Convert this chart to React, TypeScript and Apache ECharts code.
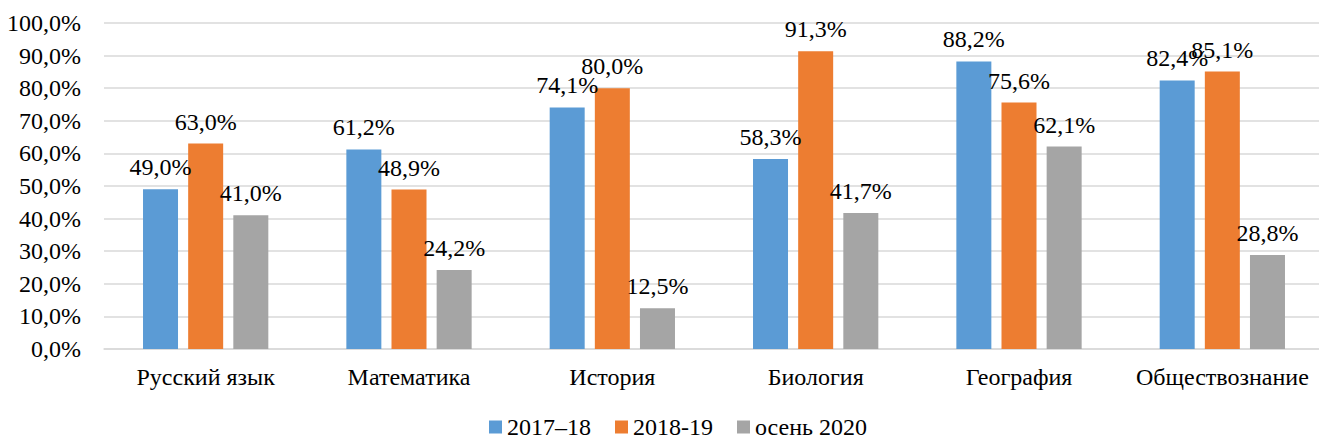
import React, { useEffect, useRef } from "react";
import * as echarts from "echarts";

const categories = ["Русский язык", "Математика", "История", "Биология", "География", "Обществознание"];
const seriesNames = ["2017–18", "2018-19", "осень 2020"];
const values2017 = [49.0, 61.2, 74.1, 58.3, 88.2, 82.4];
const values2018 = [63.0, 48.9, 80.0, 91.3, 75.6, 85.1];
const values2020 = [41.0, 24.2, 12.5, 41.7, 62.1, 28.8];
const colors = ["#5B9BD5", "#ED7D31", "#A5A5A5"];

const FONT = "Liberation Serif";
const FS = 24;
const fmt = (v: number) => v.toFixed(1).replace(".", ",") + "%";

export default function App() {
  const ref = useRef<HTMLDivElement>(null);
  useEffect(() => {
    document.body.style.margin = "0";
    if (!ref.current) return;
    const chart = echarts.init(ref.current, undefined, { renderer: "svg" });
    const data = [values2017, values2018, values2020];
    chart.setOption({
      animation: false,
      textStyle: { fontFamily: FONT, color: "#000" },
      grid: { left: 104, right: 6, top: 23, bottom: 92, containLabel: false },
      legend: {
        left: 489,
        top: 415,
        padding: 0,
        icon: "rect",
        itemWidth: 13,
        itemHeight: 13,
        itemGap: 24,
        textStyle: { fontFamily: FONT, fontSize: FS, lineHeight: 24, color: "#000" },
        data: seriesNames,
      },
      xAxis: {
        type: "category",
        data: categories,
        axisLine: { show: true, lineStyle: { color: "#D9D9D9", width: 1.5 } },
        axisTick: { show: false },
        axisLabel: { fontFamily: FONT, fontSize: FS, color: "#000", margin: 16, interval: 0 },
      },
      yAxis: {
        type: "value",
        min: 0,
        max: 100,
        interval: 10,
        axisLine: { show: false },
        axisTick: { show: false },
        splitLine: { lineStyle: { color: "#D9D9D9", width: 1.5 } },
        axisLabel: { fontFamily: FONT, fontSize: FS, color: "#000", margin: 23, formatter: (v: number) => fmt(v) },
      },
      series: seriesNames.map((name, i) => ({
        name,
        type: "bar",
        data: data[i],
        barWidth: 35,
        barGap: "29%",
        itemStyle: { color: colors[i] },
        label: {
          show: true,
          position: "top",
          distance: 10,
          fontFamily: FONT,
          fontSize: FS,
          color: "#000",
          formatter: (p: any) => fmt(p.value),
        },
      })),
    });
    return () => chart.dispose();
  }, []);
  return (
    <div style={{ width: 1319, height: 441, overflow: "hidden", position: "relative", background: "#fff" }}>
      <div ref={ref} style={{ width: 1330, height: 441 }} />
    </div>
  );
}
